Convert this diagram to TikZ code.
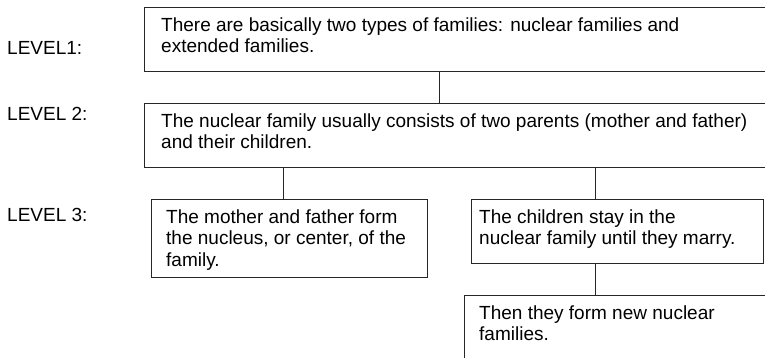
\documentclass[tikz,border=0pt]{standalone}
\usepackage{fontspec}
\setmainfont{Liberation Sans}
\begin{document}
\begin{tikzpicture}[x=1pt,y=-1pt,
  box/.style={draw=black!85, line width=0.9pt, rectangle, anchor=north west, inner sep=0pt},
  txt/.style={anchor=north west, inner sep=0pt, align=left, font=\fontsize{19}{21.5}\selectfont},
  lbl/.style={anchor=base west, inner sep=0pt, font=\fontsize{19}{21.5}\selectfont},
  conn/.style={draw=black!85, line width=0.9pt}]
\clip (0,0) rectangle (765,358);
% boxes
\node[box, minimum width=640pt, minimum height=64pt] (b1) at (144,7) {};
\node[box, minimum width=640pt, minimum height=64pt] (b2) at (144,103) {};
\node[box, minimum width=276pt, minimum height=78pt] (b3) at (151,199) {};
\node[box, minimum width=292pt, minimum height=64pt] (b4) at (471,199) {};
\node[box, minimum width=340pt, minimum height=62.8pt] (b5) at (464,295) {};
% texts
\node[txt] (t1) at ([xshift=17pt,yshift=-10.2pt]b1.north west) {There are basically two types of families: nuclear families and\\extended families.};
\node[txt] (t2) at ([xshift=17pt,yshift=-10.2pt]b2.north west) {The nuclear family usually consists of two parents (mother and father)\\and their children.};
\node[txt] (t3) at ([xshift=15pt,yshift=-10.2pt]b3.north west) {The mother and father form\\the nucleus, or center, of the\\family.};
\node[txt] (t4) at ([xshift=8pt,yshift=-10.2pt]b4.north west) {The children stay in the\\nuclear family until they marry.};
\node[txt] (t5) at ([xshift=15pt,yshift=-10.2pt]b5.north west) {Then they form new nuclear\\families.};
% level labels
\node[lbl] (l1) at (7,55) {LEVEL1:};
\node[lbl] (l2) at (7,121) {LEVEL 2:};
\node[lbl] (l3) at (7,222) {LEVEL 3:};
% connectors
\coordinate (x12) at (439,0);
\coordinate (x23) at (283,0);
\coordinate (x24) at (595,0);
\draw[conn] (x12 |- b1.south) -- (x12 |- b2.north);
\draw[conn] (x23 |- b2.south) -- (x23 |- b3.north);
\draw[conn] (x24 |- b2.south) -- (x24 |- b4.north);
\draw[conn] (x24 |- b4.south) -- (x24 |- b5.north);
\end{tikzpicture}
\end{document}
